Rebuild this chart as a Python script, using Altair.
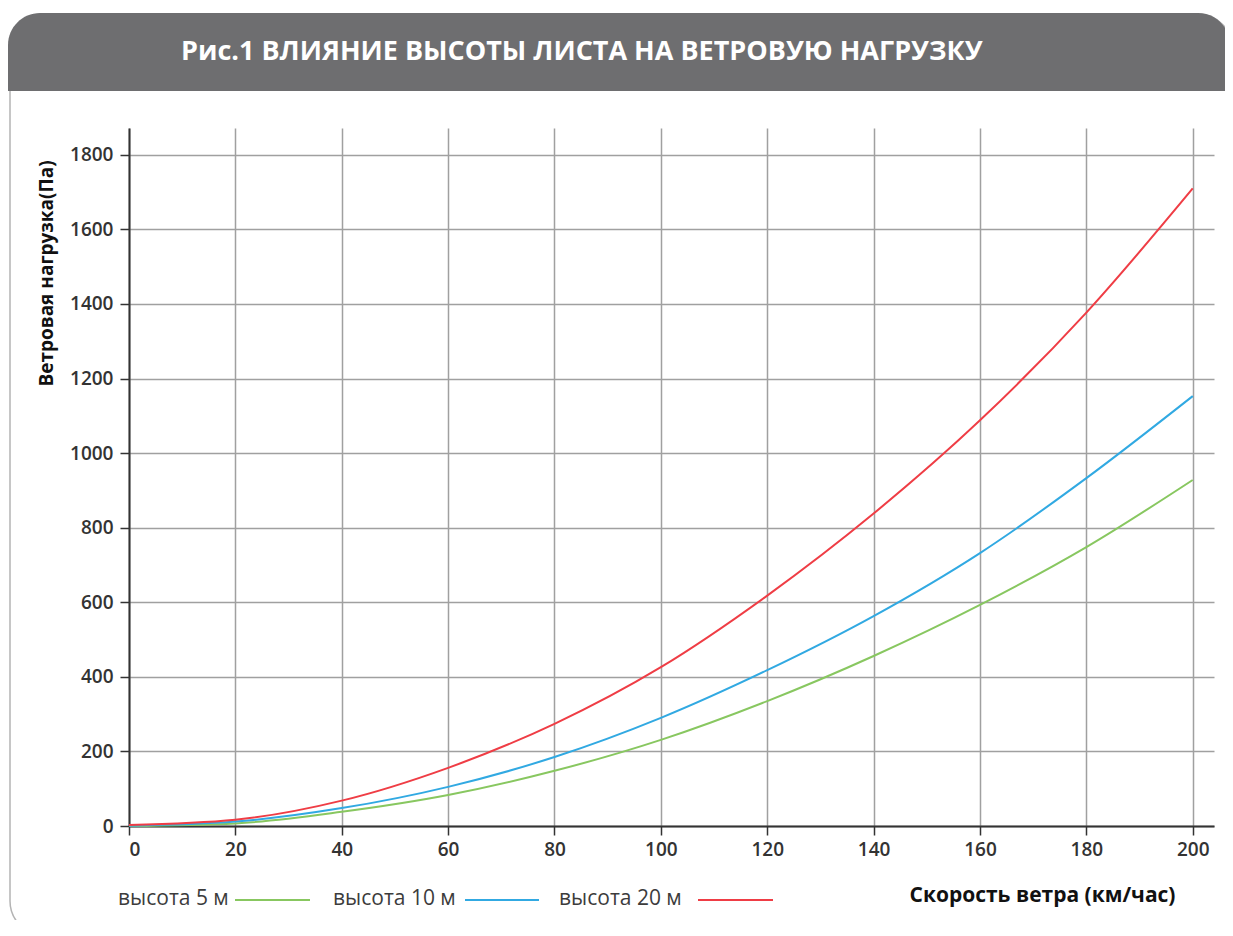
import altair as alt
import pandas as pd

speeds = [0, 20, 40, 60, 80, 100, 120, 140, 160, 180, 200]
h5 = [0, 7, 38, 83, 148, 231, 335, 456, 593, 748, 928]
h10 = [1, 12, 48, 105, 185, 290, 418, 563, 732, 933, 1153]
h20 = [3, 17, 68, 156, 274, 426, 618, 838, 1088, 1377, 1710]
series_names = ["высота 5 м", "высота 10 м", "высота 20 м"]
series_colors = ["#88c760", "#31a9e2", "#ef3d45"]
x_ticks = [0, 20, 40, 60, 80, 100, 120, 140, 160, 180, 200]
y_ticks = [0, 200, 400, 600, 800, 1000, 1200, 1400, 1600, 1800]
title_text = "Рис.1 ВЛИЯНИЕ ВЫСОТЫ ЛИСТА НА ВЕТРОВУЮ НАГРУЗКУ"
x_title = "Скорость ветра (км/час)"
y_title = "Ветровая нагрузка(Па)"

rows = []
for name, vals in zip(series_names, [h5, h10, h20]):
    for s, v in zip(speeds, vals):
        rows.append({"speed": s, "load": v, "series": name})
df = pd.DataFrame(rows)

W, H = 1085, 698
PL, PT, PR, PB = 121, 120, 11, 94
FONT = "Open Sans"

one = alt.Data(values=[{}])

outline = alt.Chart(one).mark_rect(
    fill="white", fillOpacity=0, stroke="#b4b4b4", strokeWidth=1.5, cornerRadius=34
).encode(x=alt.value(-119), x2=alt.value(1103), y=alt.value(-114), y2=alt.value(807))

header = alt.Chart(one).mark_rect(
    fill="#6e6e70", cornerRadiusTopLeft=32, cornerRadiusTopRight=32
).encode(x=alt.value(-121), x2=alt.value(1101), y=alt.value(-115), y2=alt.value(-37))

header_text = alt.Chart(one).mark_text(
    text=title_text, color="white", font=FONT, fontWeight="bold",
    fontSize=27, align="left", baseline="middle"
).encode(x=alt.value(52), y=alt.value(-76))

lines = alt.Chart(df).mark_line(strokeWidth=2, interpolate="monotone").encode(
    x=alt.X("speed:Q", scale=alt.Scale(domain=[0, 204], nice=False, zero=False),
            axis=alt.Axis(values=x_ticks, format="d", title=x_title, titleX=913, titleY=69,
                          titleAlign="center", titleBaseline="middle", titleFontSize=21,
                          labelPadding=5)),
    y=alt.Y("load:Q", scale=alt.Scale(domain=[0, 1872], nice=False),
            axis=alt.Axis(values=y_ticks, format="d", title=y_title, titleX=-83, titleY=145,
                          titleAngle=270, titleAlign="center", titleBaseline="middle",
                          titleFontSize=19, labelPadding=7)),
    color=alt.Color("series:N", scale=alt.Scale(domain=series_names, range=series_colors), legend=None),
    order=alt.Order("speed:Q"),
)

legend_layers = []
legend_pos = [(-11, 106, 181), (204, 336, 410), (430, 569, 644)]
for name, col, (tx, lx0, lx1) in zip(series_names, series_colors, legend_pos):
    legend_layers.append(
        alt.Chart(one).mark_text(text=name, font=FONT, fontSize=21, color="#3c3c3c",
                                 align="left", baseline="middle")
        .encode(x=alt.value(tx), y=alt.value(771))
    )
    legend_layers.append(
        alt.Chart(one).mark_rule(color=col, strokeWidth=2)
        .encode(x=alt.value(lx0), x2=alt.value(lx1), y=alt.value(772))
    )

chart = alt.layer(outline, header, header_text, lines, *legend_layers).properties(
    width=W, height=H,
    padding={"left": PL, "top": PT, "right": PR, "bottom": PB},
    autosize=alt.AutoSizeParams(type="none"),
).configure_view(stroke=None).configure_axis(
    domainColor="#333333", domainWidth=2, tickColor="#333333", tickSize=9, tickWidth=1.5,
    gridColor="#a0a0a0", gridWidth=1.5, labelFont=FONT, labelFontSize=19, labelFontWeight=600,
    labelColor="#333333", titleFont=FONT, titleFontWeight="bold", titleColor="#111111",
)

chart.save("out.html", embed_options={"renderer": "svg", "actions": False})
